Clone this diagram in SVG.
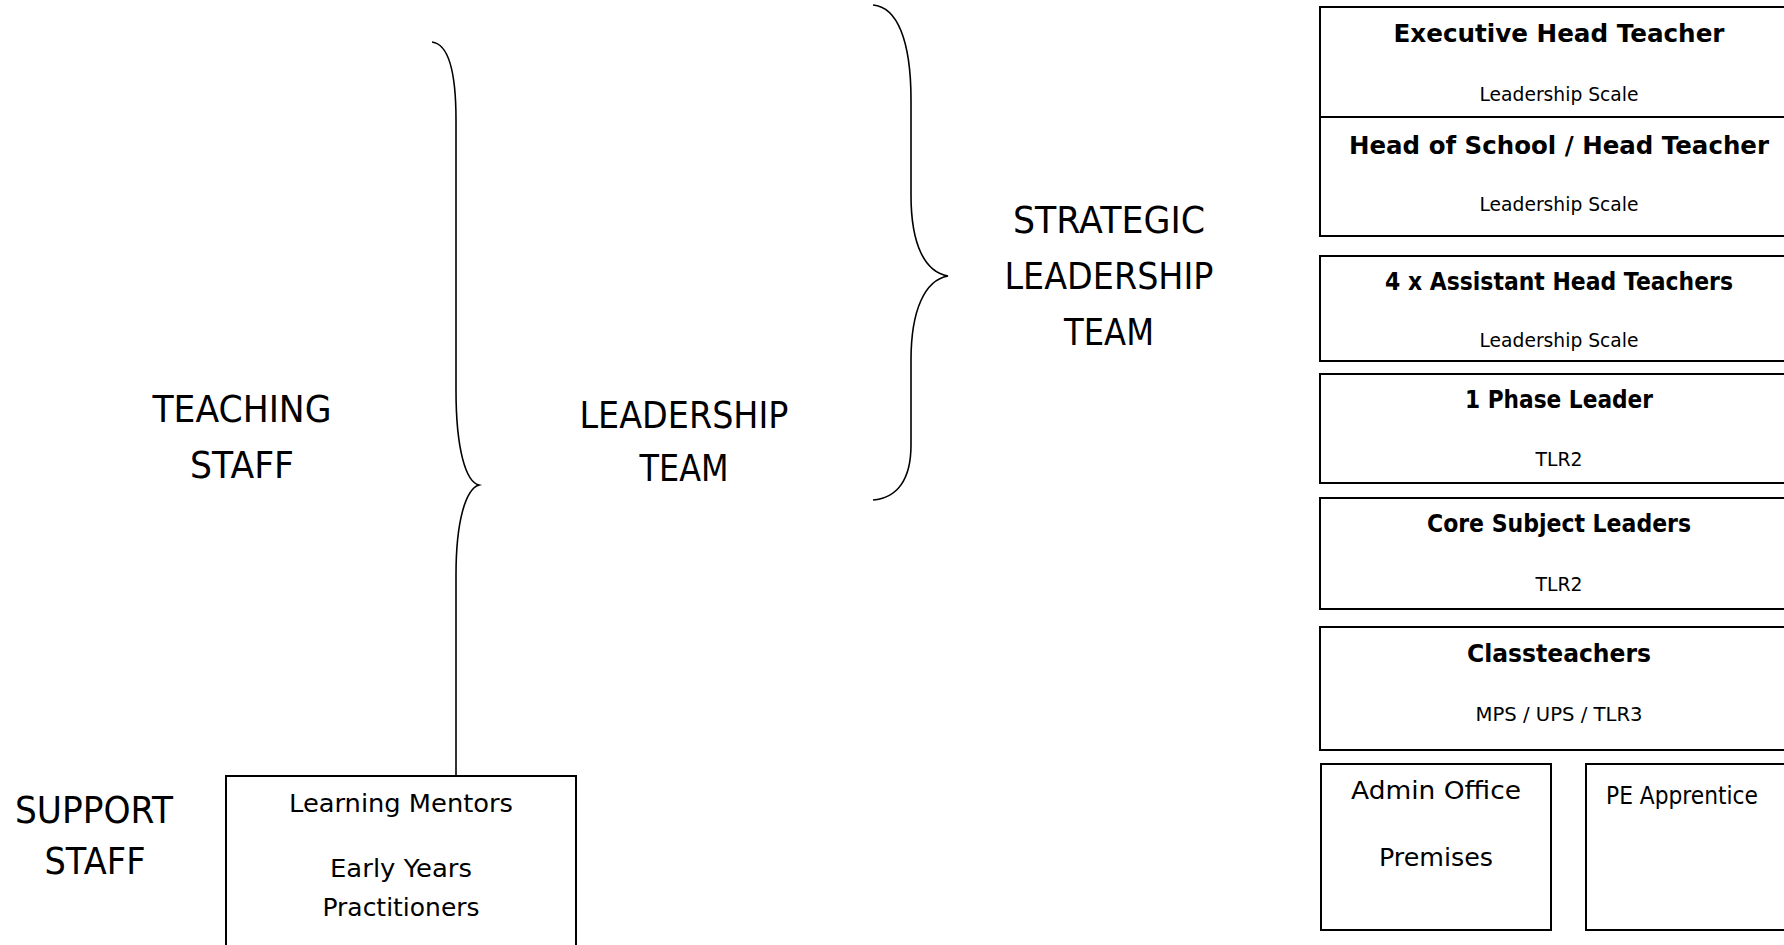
<svg xmlns="http://www.w3.org/2000/svg" width="1784" height="945" viewBox="0 0 1784 945">
<style>
text{font-family:"DejaVu Sans","Liberation Sans",sans-serif;fill:#000;text-anchor:middle}
.big{font-size:38px}
.ttl{font-size:24px;font-weight:bold}
.sub{font-size:19.5px}
.mid{font-size:25px}
.box{fill:#fff;stroke:#000;stroke-width:2}
.brace{fill:none;stroke:#000;stroke-width:1.6}
</style>
<rect width="1784" height="945" fill="#fff"/>
<g id="labels">
<text class="big" x="242" y="422" textLength="179" lengthAdjust="spacingAndGlyphs">TEACHING</text>
<text class="big" x="242" y="478" textLength="104" lengthAdjust="spacingAndGlyphs">STAFF</text>
<text class="big" x="684" y="428" textLength="209" lengthAdjust="spacingAndGlyphs">LEADERSHIP</text>
<text class="big" x="684" y="481" textLength="89" lengthAdjust="spacingAndGlyphs">TEAM</text>
<text class="big" x="1109" y="233" textLength="192" lengthAdjust="spacingAndGlyphs">STRATEGIC</text>
<text class="big" x="1109" y="289" textLength="209" lengthAdjust="spacingAndGlyphs">LEADERSHIP</text>
<text class="big" x="1109" y="345" textLength="90" lengthAdjust="spacingAndGlyphs">TEAM</text>
<text class="big" x="94" y="823" textLength="158" lengthAdjust="spacingAndGlyphs">SUPPORT</text>
<text class="big" x="95" y="874" textLength="101" lengthAdjust="spacingAndGlyphs">STAFF</text>
</g>
<g id="connectors">
<path class="brace" d="M432,42 C448,44 456,70 456,120 L456,390 C456,450 466,482 479,485 C466,489 456,520 456,575 L456,776"/>
<path class="brace" d="M873,5 C897,7 911,40 911,100 L911,195 C911,245 925,272 948,276 C925,280 911,310 911,360 L911,445 C911,480 897,498 873,500"/>
</g>
<g id="heads">
<rect class="box" x="1320" y="7" width="480" height="229"/>
<line x1="1320" y1="117" x2="1800" y2="117" stroke="#000" stroke-width="2"/>
<text class="ttl" x="1559" y="42" textLength="331" lengthAdjust="spacingAndGlyphs">Executive Head Teacher</text>
<text class="sub" x="1559" y="101" textLength="159" lengthAdjust="spacingAndGlyphs">Leadership Scale</text>
<text class="ttl" x="1559" y="154" textLength="420" lengthAdjust="spacingAndGlyphs">Head of School / Head Teacher</text>
<text class="sub" x="1559" y="211" textLength="159" lengthAdjust="spacingAndGlyphs">Leadership Scale</text>
</g>
<g id="assistant-heads">
<rect class="box" x="1320" y="256" width="480" height="105"/>
<text class="ttl" x="1559" y="290" textLength="348" lengthAdjust="spacingAndGlyphs">4 x Assistant Head Teachers</text>
<text class="sub" x="1559" y="347" textLength="159" lengthAdjust="spacingAndGlyphs">Leadership Scale</text>
</g>
<g id="phase-leader">
<rect class="box" x="1320" y="374" width="480" height="109"/>
<text class="ttl" x="1559" y="408" textLength="188" lengthAdjust="spacingAndGlyphs">1 Phase Leader</text>
<text class="sub" x="1559" y="466" textLength="47" lengthAdjust="spacingAndGlyphs">TLR2</text>
</g>
<g id="core-subject-leaders">
<rect class="box" x="1320" y="498" width="480" height="111"/>
<text class="ttl" x="1559" y="532" textLength="264" lengthAdjust="spacingAndGlyphs">Core Subject Leaders</text>
<text class="sub" x="1559" y="591" textLength="47" lengthAdjust="spacingAndGlyphs">TLR2</text>
</g>
<g id="classteachers">
<rect class="box" x="1320" y="627" width="480" height="123"/>
<text class="ttl" x="1559" y="662" textLength="184" lengthAdjust="spacingAndGlyphs">Classteachers</text>
<text class="sub" x="1559" y="721" textLength="167" lengthAdjust="spacingAndGlyphs">MPS / UPS / TLR3</text>
</g>
<g id="admin">
<rect class="box" x="1321" y="764" width="230" height="166"/>
<text class="mid" x="1436" y="799" textLength="170" lengthAdjust="spacingAndGlyphs">Admin Office</text>
<text class="mid" x="1436" y="866" textLength="114" lengthAdjust="spacingAndGlyphs">Premises</text>
</g>
<g id="pe-apprentice">
<rect class="box" x="1586" y="764" width="230" height="166"/>
<text class="mid" x="1606" y="804" style="text-anchor:start" textLength="152" lengthAdjust="spacingAndGlyphs">PE Apprentice</text>
</g>
<g id="support">
<rect class="box" x="226" y="776" width="350" height="190"/>
<text class="mid" x="401" y="812" textLength="224" lengthAdjust="spacingAndGlyphs">Learning Mentors</text>
<text class="mid" x="401" y="877" textLength="142" lengthAdjust="spacingAndGlyphs">Early Years</text>
<text class="mid" x="401" y="916" textLength="157" lengthAdjust="spacingAndGlyphs">Practitioners</text>
</g>
</svg>
